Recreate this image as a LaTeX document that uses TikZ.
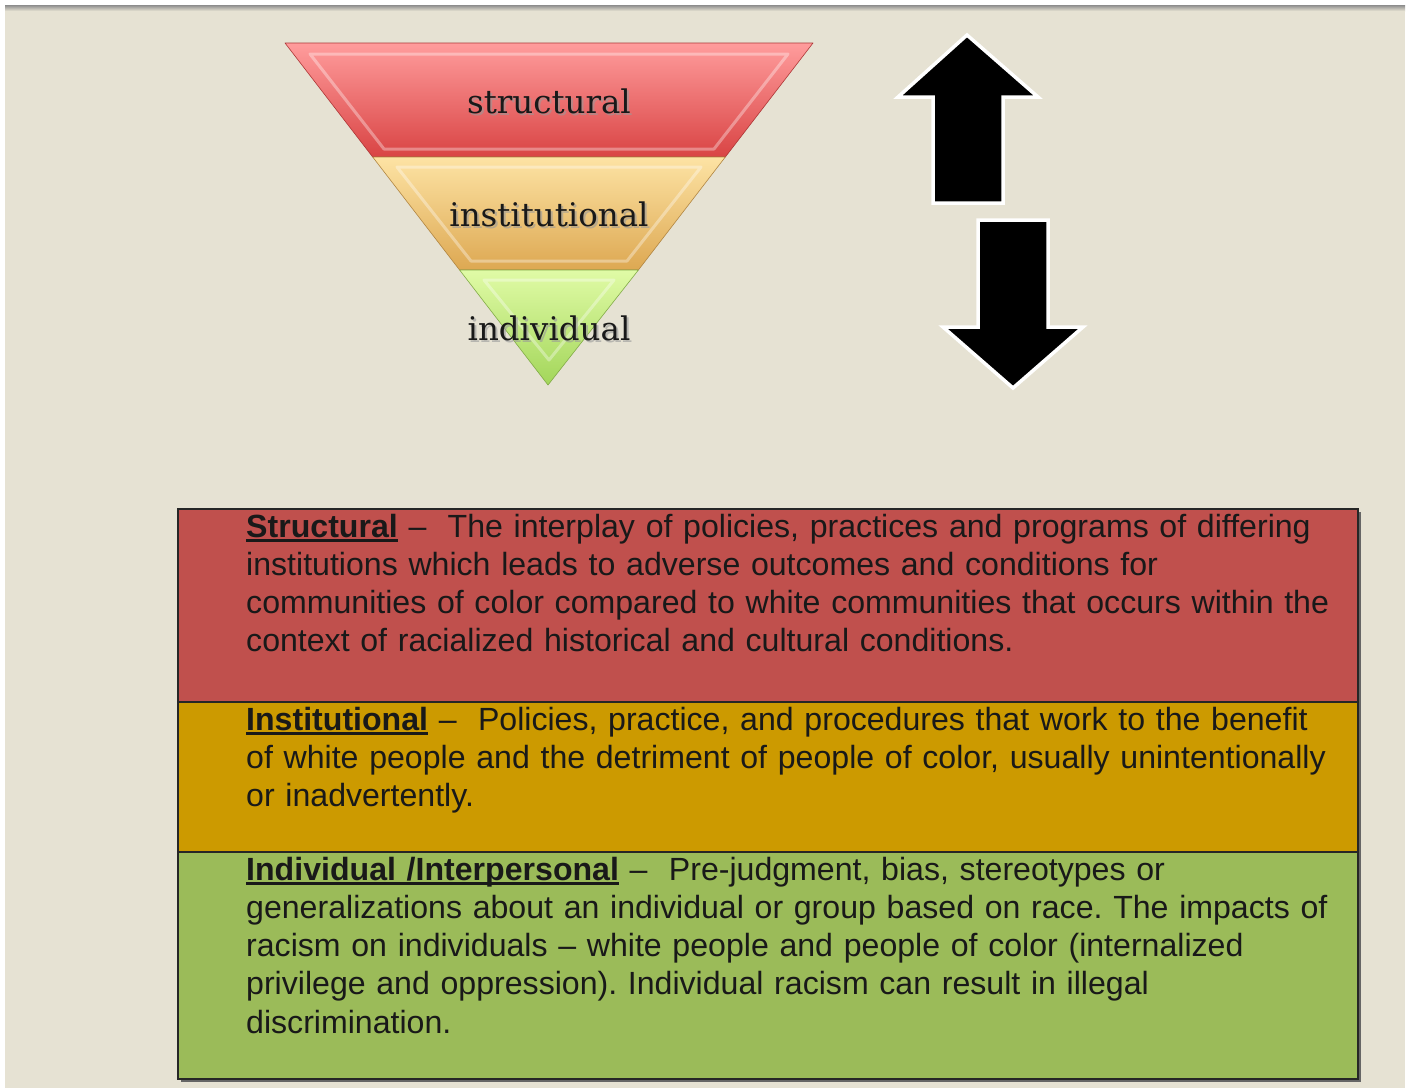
\documentclass[tikz,border=0pt]{standalone}
\usepackage{fontspec}
\setmainfont{Liberation Sans}
\newfontfamily\tierfont{DejaVu Serif}
\usetikzlibrary{calc}
\definecolor{page-bg}{HTML}{E6E2D3}
\definecolor{tier-red}{HTML}{C0504D}
\definecolor{tier-gold}{HTML}{CC9A00}
\definecolor{tier-green}{HTML}{9BBB59}
\definecolor{cone-red-top}{HTML}{FF9C9C}
\definecolor{cone-red-bot}{HTML}{D94444}
\definecolor{cone-gold-top}{HTML}{FDE3A4}
\definecolor{cone-gold-bot}{HTML}{DDA852}
\definecolor{cone-green-top}{HTML}{E0FBA6}
\definecolor{cone-green-bot}{HTML}{A3D65A}

% bold underlined heading, rule kept at a fixed depth
\newcommand\uterm[1]{\setbox0\hbox{\bfseries #1}\rlap{\rule[-4.5pt]{\wd0}{2.4pt}}\box0\relax}

\begin{document}
\frenchspacing
\begin{tikzpicture}[
    x=1pt, y=-1pt,
    band/.style={line width=0.6pt, line join=round},
    bevel/.style={draw=white, opacity=0.35, line width=3pt, line join=round},
    tierlabel/.style={font=\tierfont\fontsize{32.5}{32.5}\selectfont, text=black!90, inner sep=0},
    tiershadow/.style={tierlabel, text=black!40, opacity=0.6},
    bigarrow/.style={fill=black, draw=white, line width=3.5pt, line join=miter},
    defbox/.style={draw=black!85, line width=1.8pt},
    deftext/.style={anchor=base west, inner sep=0, text width=1120pt, align=left,
        font=\fontsize{32.1}{38.3}\selectfont, text=black!90}
]
    % --- Page ---
    \useasboundingbox (0,0) rectangle (1410,1088);
    \fill[white] (0,0) rectangle (1410,1088);
    \fill[page-bg] (5,5) rectangle (1405,1088);
    \shade[top color=black!45, bottom color=page-bg] (5,5) rectangle (1405,11);

    % --- Inverted pyramid ---
    \coordinate (tl) at (285,43);
    \coordinate (tr) at (813,43);
    \coordinate (ml1) at (372.7,157);
    \coordinate (mr1) at (725.3,157);
    \coordinate (ml2) at (459.6,270);
    \coordinate (mr2) at (638.4,270);
    \coordinate (apex) at (548,385);

    \shade[band, top color=cone-red-top, bottom color=cone-red-bot, draw=cone-red-bot!80!black]
        (tl) -- (tr) -- (mr1) -- (ml1) -- cycle;
    \shade[band, top color=cone-gold-top, bottom color=cone-gold-bot, draw=cone-gold-bot!80!black]
        (ml1) -- (mr1) -- (mr2) -- (ml2) -- cycle;
    \shade[band, top color=cone-green-top, bottom color=cone-green-bot, draw=cone-green-bot!80!black]
        (ml2) -- (mr2) -- (apex) -- cycle;

    % bevel highlights
    \draw[bevel] (310,54) -- (788,54) -- (714,149) -- (384,149) -- cycle;
    \draw[bevel] (397,167) -- (701,167) -- (627,261) -- (471,261) -- cycle;
    \draw[bevel] (484,280) -- (614,280) -- (549,360) -- cycle;

    % labels with a soft drop shadow
    \node [tiershadow] at (551,103) {structural};
    \node [tiershadow] at (551,216) {institutional};
    \node [tiershadow] at (551,330) {individual};
    \node (structural) [tierlabel] at (549,101) {structural};
    \node (institutional) [tierlabel] at (549,214) {institutional};
    \node (individual) [tierlabel] at (549,328) {individual};

    % --- Up / down arrows ---
    \draw[bigarrow] (967,35) -- (1038,97) -- (1003,97) -- (1003,203)
        -- (933,203) -- (933,97) -- (898,97) -- cycle;
    \draw[bigarrow] (978,220) -- (1048,220) -- (1048,327) -- (1083,327)
        -- (1013,388) -- (943,327) -- (978,327) -- cycle;

    % --- Definitions table ---
    \fill[black!60] (181,512) rectangle (1361,1082);
    \fill[tier-red] (178,509) rectangle (1358,702);
    \fill[tier-gold] (178,702) rectangle (1358,852);
    \fill[tier-green] (178,852) rectangle (1358,1079);
    \draw[defbox] (178,509) rectangle (1358,1079);
    \draw[defbox] (178,702) -- (1358,702);
    \draw[defbox] (178,852) -- (1358,852);

    \node (structdef) [deftext] at (246,537) {%
        \uterm{Structural} --\ \ The interplay of policies, practices and programs of differing\\
        institutions which leads to adverse outcomes and conditions for\\
        communities of color compared to white communities that occurs within the\\
        context of racialized historical and cultural conditions.};
    \node (instdef) [deftext] at (246,730) {%
        \uterm{Institutional} --\ \ Policies, practice, and procedures that work to the benefit\\
        of white people and the detriment of people of color, usually unintentionally\\
        or inadvertently.};
    \node (indivdef) [deftext] at (246,880) {%
        \uterm{Individual /Interpersonal} --\ \ Pre-judgment, bias, stereotypes or\\
        generalizations about an individual or group based on race. The impacts of\\
        racism on individuals -- white people and people of color (internalized\\
        privilege and oppression). Individual racism can result in illegal\\
        discrimination.};
\end{tikzpicture}
\end{document}
